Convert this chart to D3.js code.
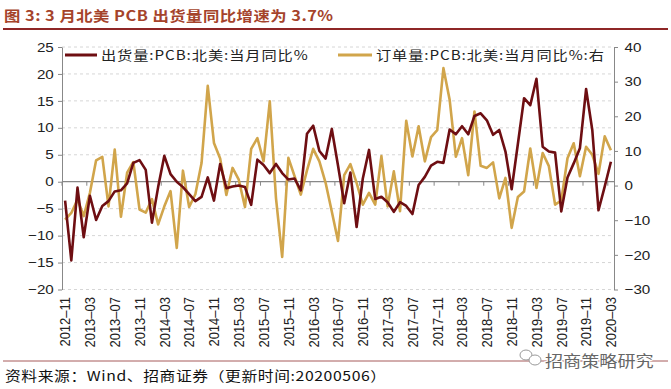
<!DOCTYPE html>
<html>
<head>
<meta charset="utf-8">
<script src="https://cdn.jsdelivr.net/npm/d3@7"></script>
<style>
  body { margin: 0; background: #fff; }
  svg { display: block; font-family: "Liberation Sans", Arial, "Noto Sans CJK SC", sans-serif; }
</style>
</head>
<body>
<div id="chart"></div>
<script>
// Monthly categories, 2012-11 .. 2020-03
var months = d3.timeMonth.range(new Date(2012, 10, 1), new Date(2020, 3, 1)).map(d3.timeFormat('%Y-%m'));

// 出货量:PCB:北美:当月同比% (left axis)
var shipYoY = [
  -3.5, -14.6, -1.1, -10.3, -2.6, -7.1, -4.5, -3.6, -1.8, -1.6,
  -0.3, 3.5, 4.0, 2.2, -7.6, -1.0, 4.8, 1.4, 0.0, -1.0,
  -2.3, -3.6, -2.8, 0.8, -3.5, 3.3, -1.2, -0.9, -0.7, -1.0,
  -4.3, 4.1, 3.1, 1.6, 3.3, 1.6, 0.4, 0.6, -1.6, 8.9,
  10.4, 5.7, 4.3, 9.8, 3.0, -4.0, 1.7, -8.4, 0.6, 5.9,
  -3.2, -2.8, -3.8, -5.6, -3.8, -4.5, -6.0, -0.6, 0.9, 3.0,
  3.7, 3.5, 9.7, 8.8, 10.3, 8.8, 12.2, 12.7, 11.4, 8.7,
  9.6, 5.6, -1.4, 7.0, 15.5, 14.2, 19.1, 6.5, 5.6, 5.4,
  -5.5, 0.8, 3.4, 6.2, 17.2, 9.6, -5.3, -0.9, 3.7
];

// 订单量:PCB:北美:当月同比% (right axis)
var orderYoY = [
  -9.8, -7.9, -4.0, -8.8, -2.1, 7.3, 8.3, -6.0, 10.4, -9.0,
  3.7, 6.8, -6.9, -7.8, -3.9, -11.2, -6.0, -1.6, -18.0, 4.3,
  -6.2, -2.5, 6.5, 28.8, 12.3, 7.8, -2.7, 5.1, 1.7, -6.2,
  10.6, 13.7, 7.0, 24.3, -3.6, -20.6, 8.0, 2.7, -2.6, 4.4,
  10.6, 7.0, 0.8, -7.5, -16.0, 3.0, 6.2, 0.8, -5.5, -2.1,
  -5.5, 8.5, -6.0, 4.1, -7.4, 18.7, 8.4, 17.1, 7.0, 14.0,
  16.0, 33.9, 24.8, 8.3, 13.7, 3.0, 21.4, 5.7, 5.1, 6.7,
  -3.7, 2.2, -12.2, -3.3, -1.7, 10.7, -0.7, 9.4, 5.6, -5.5,
  -4.3, 7.9, 12.2, 2.7, 11.2, 8.9, 3.4, 14.2, 10.2
];

var leftTicks = [-20, -15, -10, -5, 0, 5, 10, 15, 20, 25];
var rightTicks = [-30, -20, -10, 0, 10, 20, 30, 40];
var seriesNames = ['出货量:PCB:北美:当月同比%', '订单量:PCB:北美:当月同比%:右'];

var width = 671, height = 389;
var plot = {left: 62, right: 614, top: 47, bottom: 289.5};
// the reference is a bit wider than tall, so text is stretched horizontally
var stretch = 'scale(1.17,1)';
var shipColor = '#6E0E12';
var orderColor = '#D1A54B';
var axisColor = '#888';

var svg = d3.select('#chart').append('svg')
  .attr('width', width)
  .attr('height', height);

svg.append('rect').attr('width', width).attr('height', height).attr('fill', '#fff');

// title + rule
svg.append('text')
  .attr('transform', 'translate(4,21) ' + stretch)
  .attr('font-family', '"Noto Sans CJK SC", sans-serif')
  .attr('font-weight', 'bold')
  .attr('font-size', 14)
  .attr('letter-spacing', 0.4)
  .attr('fill', '#A5432B')
  .text('图 3:  3 月北美 PCB 出货量同比增速为 3.7%');

svg.append('line')
  .attr('x1', 3).attr('x2', 668).attr('y1', 29).attr('y2', 29)
  .attr('stroke', '#8E2626').attr('stroke-width', 2);

var x = d3.scalePoint().domain(months).range([plot.left, plot.right]).padding(0.5);
var step = x.step();
var yL = d3.scaleLinear().domain([-20, 25]).range([plot.bottom, plot.top]);
var yR = d3.scaleLinear().domain([-30, 40]).range([plot.bottom, plot.top]);

// dashed gridlines
svg.append('g').selectAll('line')
  .data(leftTicks.filter(function(d) { return d !== 0; }))
  .join('line')
  .attr('x1', plot.left).attr('x2', plot.right)
  .attr('y1', function(d) { return yL(d); })
  .attr('y2', function(d) { return yL(d); })
  .attr('stroke', '#D6D6D6')
  .attr('stroke-dasharray', '3,3');

// left axis
var leftAxis = svg.append('g')
  .attr('transform', 'translate(' + plot.left + ',0)')
  .call(d3.axisLeft(yL).tickValues(leftTicks).tickSize(4).tickSizeOuter(0).tickPadding(3));

// right axis
var rightAxis = svg.append('g')
  .attr('transform', 'translate(' + plot.right + ',0)')
  .call(d3.axisRight(yR).tickValues(rightTicks).tickSize(4).tickSizeOuter(0).tickPadding(5));

[leftAxis, rightAxis].forEach(function(ax) {
  ax.select('.domain').attr('stroke', axisColor);
  ax.selectAll('.tick line').attr('stroke', axisColor);
  ax.selectAll('text')
    .attr('font-size', 13)
    .attr('fill', '#222')
    .attr('transform', stretch);
});

// zero line with month ticks
var zeroY = yL(0);
svg.append('line')
  .attr('x1', plot.left).attr('x2', plot.right)
  .attr('y1', zeroY).attr('y2', zeroY)
  .attr('stroke', axisColor).attr('stroke-width', 1.2);

var labelled = months.filter(function(m, i) { return i % 4 === 0; });

svg.append('g').selectAll('line')
  .data(labelled)
  .join('line')
  .attr('x1', function(d) { return x(d) - step / 2; })
  .attr('x2', function(d) { return x(d) - step / 2; })
  .attr('y1', zeroY).attr('y2', zeroY + 4)
  .attr('stroke', axisColor);

svg.append('g').selectAll('text')
  .data(labelled)
  .join('text')
  .attr('transform', function(d) { return 'translate(' + x(d) + ',297) ' + stretch + ' rotate(-90)'; })
  .attr('text-anchor', 'end')
  .attr('dy', '0.35em')
  .attr('font-size', 13)
  .attr('fill', '#222')
  .text(function(d) { return d.replace('-', '–'); });

// series
var shipLine = d3.line()
  .x(function(d, i) { return x(months[i]); })
  .y(function(d) { return yL(d); });

var orderLine = d3.line()
  .x(function(d, i) { return x(months[i]); })
  .y(function(d) { return yR(d); });

svg.append('path')
  .datum(orderYoY)
  .attr('d', orderLine)
  .attr('fill', 'none')
  .attr('stroke', orderColor)
  .attr('stroke-width', 2.6)
  .attr('stroke-linejoin', 'round');

svg.append('path')
  .datum(shipYoY)
  .attr('d', shipLine)
  .attr('fill', 'none')
  .attr('stroke', shipColor)
  .attr('stroke-width', 2.6)
  .attr('stroke-linejoin', 'round');

// legend
var legend = [
  {name: seriesNames[0], color: shipColor, x1: 65, x2: 97},
  {name: seriesNames[1], color: orderColor, x1: 338, x2: 372}
];

legend.forEach(function(d) {
  svg.append('line')
    .attr('x1', d.x1).attr('x2', d.x2)
    .attr('y1', 55).attr('y2', 55)
    .attr('stroke', d.color).attr('stroke-width', 3);
  svg.append('text')
    .attr('transform', 'translate(' + (d.x2 + 4) + ',60) ' + stretch)
    .attr('font-family', '"Noto Sans CJK SC", sans-serif')
    .attr('font-size', 13)
    .attr('letter-spacing', 0.8)
    .attr('fill', '#222')
    .text(d.name);
});

// footer
svg.append('line')
  .attr('x1', 3).attr('x2', 668).attr('y1', 361).attr('y2', 361)
  .attr('stroke', '#A65A5A').attr('stroke-width', 1);

svg.append('text')
  .attr('transform', 'translate(5,381) ' + stretch)
  .attr('font-family', '"Noto Sans CJK SC", sans-serif')
  .attr('font-size', 13.5)
  .attr('letter-spacing', 0.5)
  .attr('fill', '#111')
  .text('资料来源：Wind、招商证券（更新时间:20200506）');

// watermark
var mark = svg.append('g').attr('fill', '#fff').attr('stroke', '#999').attr('stroke-width', 1);
mark.append('ellipse').attr('cx', 526).attr('cy', 355).attr('rx', 6).attr('ry', 5);
mark.append('ellipse').attr('cx', 535).attr('cy', 360).attr('rx', 6).attr('ry', 5);

svg.append('text')
  .attr('transform', 'translate(545,367) ' + stretch)
  .attr('font-family', '"Noto Sans CJK SC", sans-serif')
  .attr('font-size', 15.5)
  .attr('fill', '#666')
  .attr('stroke', '#fff')
  .attr('stroke-width', 2)
  .attr('paint-order', 'stroke')
  .text('招商策略研究');
</script>
</body>
</html>
